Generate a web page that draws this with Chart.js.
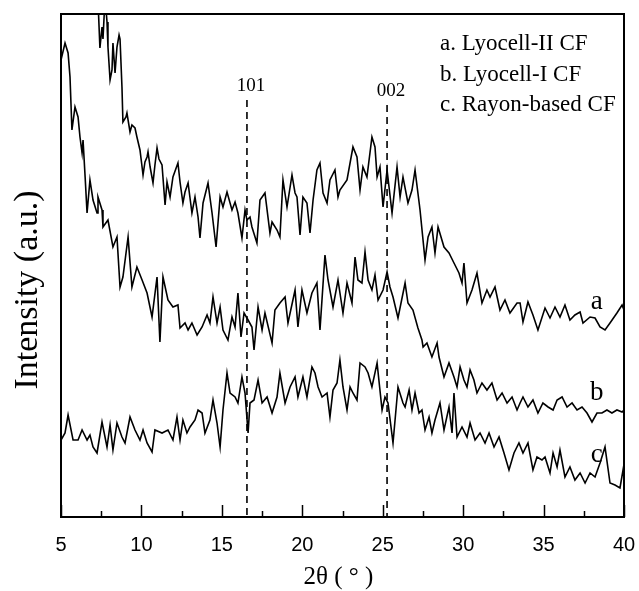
<!DOCTYPE html>
<html>
<head>
<meta charset="utf-8">
<script src="https://cdn.jsdelivr.net/npm/chart.js@4.4.0/dist/chart.umd.min.js"></script>
<style>
  html, body { margin: 0; padding: 0; background: #fff; }
</style>
</head>
<body>
<canvas id="xrd" width="639" height="591"></canvas>
<script>
// tick labels on the 2theta axis
const xTicks = [5, 10, 15, 20, 25, 30, 35, 40];

// a. Lyocell-II CF
const thetaA = [7.24,7.42,7.55,7.61,7.74,7.86,7.92,8.05,8.17,8.23,8.36,8.48,8.61,8.67,8.79,8.85,9.04,9.10,9.29,9.41,9.60,9.72,9.91,10.04,10.10,10.22,10.35,10.41,10.54,10.72,10.84,10.97,11.09,11.28,11.47,11.59,11.78,11.96,12.27,12.40,12.58,12.71,12.90,13.14,13.33,13.52,13.64,13.83,14.14,14.39,14.64,14.89,15.07,15.32,15.63,15.82,16.00,16.25,16.44,16.56,16.75,16.87,17.18,17.37,17.68,17.99,18.12,18.43,18.61,18.80,19.05,19.36,19.55,19.67,19.86,20.04,20.29,20.48,20.67,20.91,21.10,21.29,21.54,21.72,22.03,22.22,22.34,22.78,23.15,23.40,23.59,23.77,24.02,24.33,24.52,24.65,24.83,25.02,25.27,25.58,25.89,26.08,26.26,26.57,26.82,27.01,27.32,27.63,27.82,28.06,28.25,28.44,28.81,29.12,29.43,29.74,29.93,30.05,30.24,30.55,30.86,31.17,31.48,31.67,31.98,32.29,32.60,32.91,33.35,33.54,33.72,34.03,34.34,34.65,35.09,35.40,35.71,36.02,36.33,36.64,36.95,37.27,37.45,37.89,38.20,38.51,38.82,39.13,39.56,39.88,40.00];
const intensityA = [540,469,490,478,520,495,470,437,447,474,444,470,482,478,430,395,400,404,385,392,389,380,367,350,342,355,360,365,350,334,352,369,358,352,312,335,320,340,354,335,314,325,334,304,320,300,279,314,334,304,270,320,310,325,307,315,304,279,307,297,300,290,274,317,324,284,295,287,280,337,310,342,324,320,282,320,314,284,317,347,354,324,314,337,347,320,327,337,370,360,327,350,340,380,370,340,350,310,347,304,350,320,340,314,327,347,307,257,280,290,264,290,270,264,254,244,234,254,214,227,244,214,227,220,230,207,217,204,214,214,195,215,202,187,209,199,210,200,212,197,202,205,194,200,199,190,187,194,204,212,207];

// b. Lyocell-I CF
const thetaB = [5.00,5.25,5.44,5.56,5.68,5.87,6.06,6.18,6.31,6.37,6.50,6.62,6.80,6.99,7.24,7.30,7.55,7.61,7.92,8.23,8.48,8.67,8.85,9.17,9.41,9.72,10.04,10.35,10.66,10.97,11.15,11.34,11.65,11.96,12.27,12.40,12.71,12.90,13.14,13.46,13.77,14.08,14.26,14.45,14.70,14.89,15.07,15.38,15.63,15.82,16.00,16.19,16.38,16.63,16.87,17.00,17.25,17.50,17.68,18.12,18.30,18.61,18.93,19.11,19.55,19.73,19.98,20.29,20.60,20.91,21.10,21.41,21.60,21.91,22.22,22.53,22.78,23.09,23.28,23.46,23.71,23.90,24.09,24.33,24.52,24.71,25.02,25.27,25.45,25.64,25.95,26.39,26.57,26.88,27.19,27.44,27.51,27.75,28.06,28.38,28.50,28.81,29.12,29.43,29.62,29.81,30.05,30.24,30.43,30.67,30.86,31.17,31.48,31.79,32.11,32.42,32.73,33.04,33.35,33.54,33.72,34.03,34.34,34.65,34.96,35.28,35.59,35.84,36.15,36.46,36.77,37.08,37.39,37.70,38.01,38.32,38.63,38.94,39.25,39.56,39.88,40.00];
const intensityB = [457,474,464,440,387,410,400,380,364,377,340,304,337,317,304,320,307,290,297,270,280,230,240,280,230,250,237,224,200,240,175,240,217,210,212,189,194,187,194,182,190,202,194,220,194,210,187,177,200,190,224,180,204,197,190,167,210,187,204,174,207,214,220,194,227,190,227,204,224,234,187,262,237,210,237,204,234,214,260,237,234,265,237,227,242,217,227,245,230,220,199,234,214,207,189,177,170,174,160,174,160,140,154,140,130,150,137,130,147,137,124,134,127,134,117,124,114,120,107,114,120,110,117,104,114,110,107,117,120,110,114,107,110,104,95,104,104,107,104,107,105,107];

// c. Rayon-based CF
const thetaC = [5.00,5.25,5.44,5.75,6.06,6.31,6.62,6.80,6.99,7.24,7.55,7.86,8.05,8.23,8.48,8.79,8.98,9.29,9.60,9.91,10.10,10.35,10.66,10.84,11.28,11.65,11.96,12.21,12.40,12.58,12.83,13.02,13.33,13.52,13.77,13.95,14.26,14.45,14.70,14.89,15.07,15.32,15.51,15.82,16.00,16.25,16.44,16.63,16.75,17.00,17.25,17.50,17.81,18.12,18.43,18.61,18.93,19.24,19.55,19.73,20.04,20.29,20.60,20.79,20.98,21.23,21.54,21.72,21.91,22.16,22.34,22.53,22.78,22.97,23.15,23.40,23.59,23.90,24.09,24.33,24.65,24.96,25.14,25.33,25.64,25.95,26.26,26.39,26.64,26.82,27.01,27.26,27.44,27.63,27.88,28.06,28.25,28.56,28.81,29.12,29.31,29.43,29.62,29.93,30.24,30.43,30.74,31.05,31.36,31.61,31.92,32.23,32.54,32.85,33.16,33.47,33.72,34.03,34.34,34.59,34.90,35.09,35.40,35.59,35.84,36.02,36.33,36.64,36.95,37.27,37.58,37.89,38.20,38.51,38.82,39.13,39.44,39.75,39.94,40.00];
const intensityC = [77,84,102,77,77,87,77,82,70,64,95,70,92,67,94,80,74,100,87,77,87,74,65,87,84,87,77,100,77,97,84,90,97,107,104,84,97,117,94,70,107,144,124,120,114,140,124,84,114,117,137,114,120,104,120,144,114,130,140,120,140,120,150,144,130,120,124,100,127,134,157,130,107,130,124,117,154,150,144,130,154,107,120,114,74,130,114,110,127,107,124,104,107,87,100,84,97,114,87,110,84,124,80,90,80,94,77,84,74,84,70,80,64,47,64,74,64,74,47,60,57,60,44,64,50,67,40,50,37,44,34,44,40,54,70,34,32,29,47,40];

// reflections marked with dashed lines
const peakTheta = [16.56, 25.27];
const peakLabels = ['101', '002'];
const peakLineTop = [417, 412];

const seriesNames = ['a. Lyocell-II CF', 'b. Lyocell-I CF', 'c. Rayon-based CF'];
const curveTags = ['a', 'b', 'c'];
const tagLevel = [215, 124, 62];
const tagTheta = 38.3;

const toPoints = (xs, ys) => xs.map((x, i) => ({ x, y: ys[i] }));

const serif = '"Liberation Serif", "Times New Roman", serif';
const sans = '"Liberation Sans", Arial, sans-serif';

const decorPlugin = {
  id: 'decor',
  afterDraw(chart) {
    const { ctx, chartArea: a, scales: { x, y } } = chart;
    ctx.save();
    ctx.strokeStyle = '#000';
    ctx.fillStyle = '#000';

    // frame
    ctx.lineWidth = 2;
    ctx.strokeRect(a.left, a.top, a.right - a.left, a.bottom - a.top);

    // inward ticks, minor every 2.5
    ctx.lineWidth = 1.5;
    for (let v = 5; v <= 40; v += 2.5) {
      const px = Math.round(x.getPixelForValue(v)) + 0.5;
      const len = v % 5 === 0 ? 12 : 6;
      ctx.beginPath();
      ctx.moveTo(px, a.bottom);
      ctx.lineTo(px, a.bottom - len);
      ctx.stroke();
    }

    // dashed reflection lines
    ctx.font = '19px ' + serif;
    ctx.textAlign = 'center';
    ctx.textBaseline = 'middle';
    peakTheta.forEach((t, i) => {
      const px = x.getPixelForValue(t);
      const top = y.getPixelForValue(peakLineTop[i]);
      ctx.setLineDash([7, 5]);
      ctx.lineWidth = 1.6;
      ctx.beginPath();
      ctx.moveTo(px, top);
      ctx.lineTo(px, a.bottom);
      ctx.stroke();
      ctx.setLineDash([]);
      ctx.fillText(peakLabels[i], px + 4, top - 14);
    });

    // legend text
    ctx.font = '23px ' + serif;
    ctx.textAlign = 'left';
    seriesNames.forEach((s, i) => {
      ctx.fillText(s, 440, 44 + i * 30.5);
    });

    // curve tags
    ctx.font = '27px ' + serif;
    ctx.textAlign = 'center';
    curveTags.forEach((s, i) => {
      ctx.fillText(s, x.getPixelForValue(tagTheta), y.getPixelForValue(tagLevel[i]));
    });

    // axis titles
    ctx.font = '25px ' + serif;
    ctx.fillText('2θ ( ° )', (a.left + a.right) / 2 - 4, 577);
    ctx.translate(28, 290);
    ctx.rotate(-Math.PI / 2);
    ctx.font = '34px ' + serif;
    ctx.fillText('Intensity (a.u.)', 0, 0);
    ctx.restore();
  }
};

const lineStyle = { borderColor: '#000', borderWidth: 1.6, pointRadius: 0, tension: 0, fill: false };

new Chart(document.getElementById('xrd'), {
  type: 'line',
  data: {
    datasets: [
      { label: seriesNames[0], data: toPoints(thetaA, intensityA), ...lineStyle },
      { label: seriesNames[1], data: toPoints(thetaB, intensityB), ...lineStyle },
      { label: seriesNames[2], data: toPoints(thetaC, intensityC), ...lineStyle }
    ]
  },
  options: {
    responsive: false,
    animation: false,
    layout: { padding: { top: 14, right: 15, left: 0, bottom: 0 } },
    plugins: { legend: { display: false }, tooltip: { enabled: false } },
    scales: {
      x: {
        type: 'linear', min: 5, max: 40,
        afterBuildTicks: s => { s.ticks = xTicks.map(v => ({ value: v })); },
        afterFit: s => { s.height = 74; s.paddingLeft = 0; s.paddingRight = 0; },
        grid: { display: false, drawTicks: false },
        border: { display: false },
        ticks: { color: '#000', font: { family: sans, size: 20 }, padding: 16 }
      },
      y: {
        min: 0, max: 503,
        afterFit: s => { s.width = 61; },
        grid: { display: false, drawTicks: false },
        border: { display: false },
        ticks: { display: false }
      }
    }
  },
  plugins: [decorPlugin]
});
</script>
</body>
</html>
